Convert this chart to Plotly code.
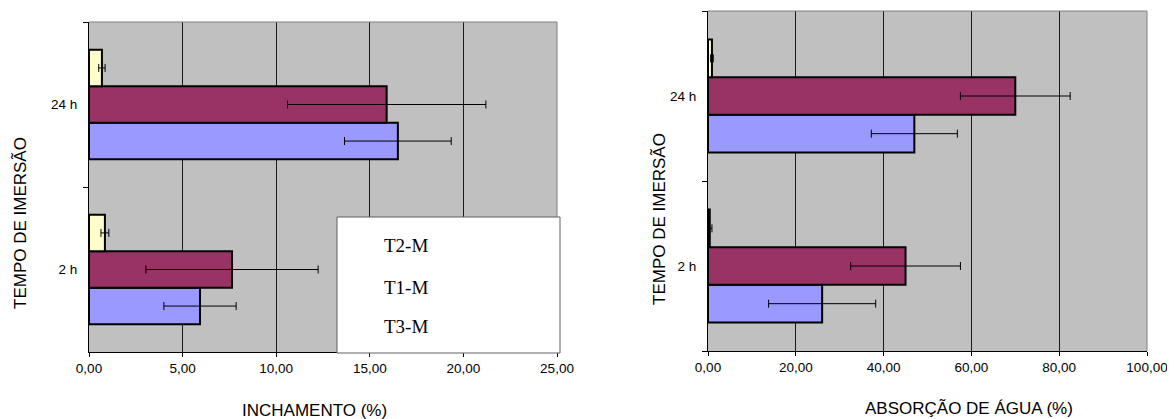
import plotly.graph_objects as go

PAGE_W, PAGE_H = 1175, 419
OFF = 8  # default body margin of the page
W, H = PAGE_W, PAGE_H

categories = ["2 h", "24 h"]
series_names = ["T3-M", "T1-M", "T2-M"]
series_colors = ["#9999FF", "#993366", "#FFFFCC"]

# INCHAMENTO (%)
inch_T3 = [5.93, 16.5]
inch_T3_err = [1.93, 2.85]
inch_T1 = [7.64, 15.9]
inch_T1_err = [4.6, 5.3]
inch_T2 = [0.85, 0.69]
inch_T2_err = [0.21, 0.17]

# ABSORÇÃO DE ÁGUA (%)
abs_T3 = [26.0, 47.0]
abs_T3_err = [12.2, 9.8]
abs_T1 = [45.0, 70.0]
abs_T1_err = [12.5, 12.5]
abs_T2 = [0.4, 0.9]
abs_T2_err = [0.5, 0.3]

x_ticks_left = [0, 5, 10, 15, 20, 25]
x_ticks_right = [0, 20, 40, 60, 80, 100]

x_title_left = "INCHAMENTO (%)"
x_title_right = "ABSORÇÃO DE ÁGUA (%)"
y_title = "TEMPO DE IMERSÃO"
legend_order = ["T2-M", "T1-M", "T3-M"]

fig = go.Figure()

left_vals = [(inch_T3, inch_T3_err), (inch_T1, inch_T1_err), (inch_T2, inch_T2_err)]
right_vals = [(abs_T3, abs_T3_err), (abs_T1, abs_T1_err), (abs_T2, abs_T2_err)]

for (vals, errs), name, col in zip(left_vals, series_names, series_colors):
    fig.add_trace(go.Bar(
        y=categories, x=vals, orientation="h", name=name,
        marker=dict(color=col, line=dict(color="#000000", width=2)),
        error_x=dict(type="data", array=errs, visible=True, color="#000000", thickness=1, width=4),
        xaxis="x", yaxis="y", showlegend=False,
    ))
for (vals, errs), name, col in zip(right_vals, series_names, series_colors):
    fig.add_trace(go.Bar(
        y=categories, x=vals, orientation="h", name=name,
        marker=dict(color=col, line=dict(color="#000000", width=2)),
        error_x=dict(type="data", array=errs, visible=True, color="#000000", thickness=1, width=4),
        xaxis="x2", yaxis="y2", showlegend=False,
    ))

def px_x(p):
    return (p - OFF) / W

def px_y(p):
    return 1 - (p - OFF) / H

tickfont = dict(family="Liberation Sans, Arial, sans-serif", size=13.5, color="#000000")

common_x = dict(
    showgrid=True, gridcolor="#1a1a1a", gridwidth=1, zeroline=False,
    showline=True, linecolor="#000000", linewidth=1,
    ticks="outside", ticklen=4, tickcolor="#000000",
    tickformat=".2f", tickfont=tickfont, fixedrange=True, automargin=False,
)
common_y = dict(
    type="category", categoryorder="array", categoryarray=categories,
    range=[-0.5, 1.5], showgrid=False, zeroline=False,
    showline=True, linecolor="#000000", linewidth=1,
    ticks="outside", ticklen=5, tickson="boundaries", tickcolor="#000000",
    ticklabelstandoff=8,
    tickfont=tickfont, fixedrange=True, automargin=False,
)

fig.update_layout(
    width=W, height=H,
    margin=dict(l=0, r=0, t=0, b=0, pad=0),
    paper_bgcolor="#FFFFFF", plot_bgcolor="#C0C0C0",
    separators=",.",
    barmode="group", bargap=0.335, bargroupgap=0,
    xaxis=dict(domain=[px_x(89), px_x(557)], range=[0, 25], tickvals=x_ticks_left, anchor="y", **common_x),
    yaxis=dict(domain=[px_y(352), px_y(22)], anchor="x", **common_y),
    xaxis2=dict(domain=[px_x(708), px_x(1147)], range=[0, 100], tickvals=x_ticks_right, anchor="y2", **common_x),
    yaxis2=dict(domain=[px_y(351), px_y(11)], anchor="x2", **common_y),
    showlegend=False,
)

# gray top/right plot borders
for xr, yr in [("x domain", "y domain"), ("x2 domain", "y2 domain")]:
    fig.add_shape(type="line", xref=xr, yref=yr, x0=0, x1=1, y0=1, y1=1,
                  line=dict(color="#808080", width=1), layer="above")
    fig.add_shape(type="line", xref=xr, yref=yr, x0=1, x1=1, y0=0, y1=1,
                  line=dict(color="#808080", width=1), layer="above")

# legend box (left chart)
fig.add_shape(type="rect", xref="paper", yref="paper",
              x0=px_x(337), x1=px_x(560), y0=px_y(353), y1=px_y(217),
              fillcolor="#FFFFFF", line=dict(color="#606060", width=1), layer="above")
for name, yc in zip(legend_order, [245, 287, 326]):
    fig.add_annotation(text=name, xref="paper", yref="paper", x=px_x(382), y=px_y(yc),
                       xanchor="left", yanchor="middle", showarrow=False,
                       font=dict(family="Liberation Serif, Times New Roman, serif", size=19, color="#000000"))

titlefont = dict(family="Liberation Sans, Arial, sans-serif", size=17, color="#000000")
fig.add_annotation(text=x_title_left, xref="paper", yref="paper", x=px_x(314), y=px_y(410),
                   xanchor="center", yanchor="middle", showarrow=False, font=titlefont)
fig.add_annotation(text=x_title_right, xref="paper", yref="paper", x=px_x(969), y=px_y(408),
                   xanchor="center", yanchor="middle", showarrow=False, font=titlefont)
fig.add_annotation(text=y_title, xref="paper", yref="paper", x=px_x(20), y=px_y(223),
                   xanchor="center", yanchor="middle", showarrow=False, textangle=-90, font=titlefont)
fig.add_annotation(text=y_title, xref="paper", yref="paper", x=px_x(659), y=px_y(219),
                   xanchor="center", yanchor="middle", showarrow=False, textangle=-90, font=titlefont)

fig.write_html("out.html")
